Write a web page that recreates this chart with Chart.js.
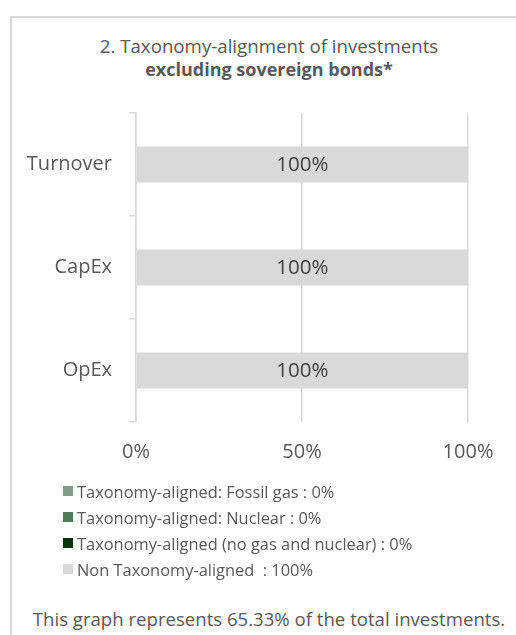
<!DOCTYPE html>
<html>
<head>
<meta charset="utf-8">
<script src="https://cdn.jsdelivr.net/npm/chart.js@4/dist/chart.umd.min.js"></script>
<style>
  html, body { margin: 0; padding: 0; background: #fff; }
  body { width: 516px; height: 635px; position: relative; overflow: hidden; font-family: "Open Sans", sans-serif; }
  #frame { position: absolute; left: 10px; top: 16px; width: 600px; height: 700px;
           border-left: 2px solid #d9d9d9; border-top: 2px solid #d9d9d9; box-sizing: border-box; }
  #wrap { position: absolute; left: 0; top: 0; width: 516px; height: 498px; }
  .head { position: absolute; left: 20px; width: 498px; text-align: center; color: #595959; white-space: nowrap; }
  #title { top: 34px; font-size: 18.7px; line-height: 24px; }
  #subtitle { top: 57px; font-size: 18px; line-height: 24px; font-weight: bold; }
  #legend { position: absolute; left: 63px; top: 478px; color: #595959; font-size: 16.4px; }
  #legend .item { height: 26px; display: flex; align-items: center; white-space: pre; }
  #legend .box { width: 10px; height: 10px; margin-right: 4px; flex: none; }
  #note { position: absolute; left: 20px; width: 498px; top: 607px; text-align: center;
          color: #595959; font-size: 18.6px; line-height: 24px; white-space: nowrap; }
</style>
</head>
<body>
<div id="frame"></div>
<div id="title" class="head"></div>
<div id="subtitle" class="head"></div>
<div id="wrap"><canvas id="chart" width="516" height="498"></canvas></div>
<div id="legend"></div>
<div id="note"></div>
<script>
// Categories (top to bottom) and x-axis ticks
const categories = ['Turnover', 'CapEx', 'OpEx'];
const xTicks = [0, 50, 100];

// Series shares, in percent, per category
const fossilGas = [0, 0, 0];
const nuclear = [0, 0, 0];
const alignedOther = [0, 0, 0];
const nonAligned = [100, 100, 100];

// Legend texts
const seriesNames = [
  'Taxonomy-aligned: Fossil gas : 0%',
  'Taxonomy-aligned: Nuclear : 0%',
  'Taxonomy-aligned (no gas and nuclear) : 0%',
  'Non Taxonomy-aligned  : 100%'
];
const seriesColors = ['#819e85', '#507a56', '#06360a', '#d9d9d9'];

const titleText = '2. Taxonomy-alignment of investments';
const subtitleText = 'excluding sovereign bonds*';
const noteText = 'This graph represents 65.33% of the total investments.';

const FONT = '"Open Sans", sans-serif';
const GRID = '#d9d9d9';

// Writes each non-zero share in the middle of its bar
const barValueLabels = {
  id: 'barValueLabels',
  afterDatasetsDraw(chart) {
    const ctx = chart.ctx;
    ctx.save();
    ctx.font = '20.5px ' + FONT;
    ctx.fillStyle = '#404040';
    ctx.textAlign = 'center';
    ctx.textBaseline = 'middle';
    chart.data.datasets.forEach((ds, di) => {
      const meta = chart.getDatasetMeta(di);
      meta.data.forEach((bar, i) => {
        const v = ds.data[i];
        if (!v) return;
        const c = bar.getCenterPoint();
        ctx.fillText(v + '%', c.x, c.y + 1);
      });
    });
    ctx.restore();
  }
};

const seriesData = [fossilGas, nuclear, alignedOther, nonAligned];

const chart = new Chart(document.getElementById('chart'), {
  type: 'bar',
  data: {
    labels: categories,
    datasets: seriesNames.map((name, i) => ({
      label: name,
      data: seriesData[i],
      backgroundColor: seriesColors[i],
      borderWidth: 0,
      barPercentage: 0.35,
      categoryPercentage: 1
    }))
  },
  options: {
    indexAxis: 'y',
    responsive: false,
    animation: false,
    events: [],
    layout: { padding: { left: 0, right: 48, top: 113, bottom: 16 } },
    scales: {
      x: {
        stacked: true,
        min: 0,
        max: 100,
        afterBuildTicks(scale) { scale.ticks = xTicks.map(v => ({ value: v })); },
        afterFit(scale) { scale.paddingLeft = 0; scale.paddingRight = 0; },
        grid: { color: GRID, lineWidth: 1.5, drawTicks: false },
        border: { display: false },
        ticks: {
          padding: 18,
          color: '#595959',
          font: { family: FONT, size: 20 },
          maxRotation: 0,
          callback: v => v + '%'
        }
      },
      y: {
        stacked: true,
        afterFit(scale) { scale.width = 136; },
        grid: { color: GRID, lineWidth: 1.5, drawOnChartArea: false, drawTicks: true, tickLength: 7, offset: true },
        border: { display: true, color: GRID, width: 1.5 },
        ticks: {
          padding: 17,
          color: '#595959',
          font: { family: FONT, size: 20 }
        }
      }
    },
    plugins: {
      legend: { display: false },
      tooltip: { enabled: false },
      title: { display: false },
      subtitle: { display: false }
    }
  },
  plugins: [barValueLabels]
});

document.getElementById('title').textContent = titleText;
document.getElementById('subtitle').textContent = subtitleText;

// Legend built from the chart's own datasets
const legendEl = document.getElementById('legend');
chart.data.datasets.forEach(ds => {
  const row = document.createElement('div');
  row.className = 'item';
  const box = document.createElement('span');
  box.className = 'box';
  box.style.background = ds.backgroundColor;
  const txt = document.createElement('span');
  txt.textContent = ds.label;
  row.appendChild(box);
  row.appendChild(txt);
  legendEl.appendChild(row);
});

document.getElementById('note').textContent = noteText;
</script>
</body>
</html>
